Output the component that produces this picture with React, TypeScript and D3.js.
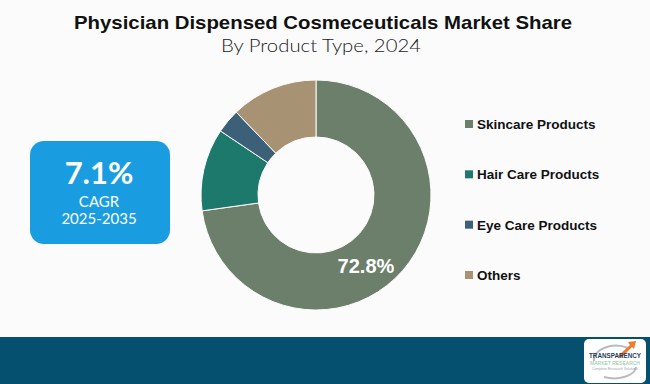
import * as d3 from 'd3';
import React from 'react';

const categories = ['Skincare Products', 'Hair Care Products', 'Eye Care Products', 'Others'];
const shares = [72.8, 11.6, 3.4, 12.2];
const colors = ['#6b7f6b', '#1d796c', '#3b6078', '#a79374'];
const shownLabel = '72.8%';

const W = 650;
const H = 384;

const App = () => {
  const cx = 316;
  const cy = 195;
  const outer = 115;
  const inner = 58;

  const pie = d3.pie<number>().sort(null).value(d => d);
  const arcs = pie(shares);
  const arc = d3.arc<d3.PieArcDatum<number>>().innerRadius(inner).outerRadius(outer);
  const labelArc = d3.arc<d3.PieArcDatum<number>>().innerRadius(86).outerRadius(86);

  // the only printed value sits on the big slice, lower right
  const big = arcs[0];
  const [lx, ly] = labelArc.centroid({ ...big, startAngle: 2.55, endAngle: 2.55 } as any);

  const legendY = d3.scalePoint<string>().domain(categories).range([124, 275]);

  return (
    <svg width={W} height={H} style={{ position: 'absolute', left: 0, top: 0, background: '#fbfbfb' }}>
      <rect width={W} height={H} fill="#fbfbfb" />

      <text x={323} y={29} textAnchor="middle" fontFamily="Liberation Sans, Arial, sans-serif" fontWeight="bold" fontSize={18.5} fill="#111" textLength={498} lengthAdjust="spacingAndGlyphs">
        Physician Dispensed Cosmeceuticals Market Share
      </text>
      <text x={321} y={52} textAnchor="middle" fontFamily="Lato, sans-serif" fontWeight={300} fontSize={17} fill="#222" textLength={200} lengthAdjust="spacingAndGlyphs">
        By Product Type, 2024
      </text>

      <rect x={30} y={141} width={140} height={103} rx={14} fill="#1a9de0" />
      <text x={99} y={184} textAnchor="middle" fontFamily="Lato, sans-serif" fontWeight="bold" fontSize={31} fill="#fff">7.1%</text>
      <text x={99} y={207} textAnchor="middle" fontFamily="Lato, sans-serif" fontSize={15} fill="#fff">CAGR</text>
      <text x={99} y={224} textAnchor="middle" fontFamily="Lato, sans-serif" fontSize={15} fill="#fff">2025-2035</text>

      <g transform={`translate(${cx},${cy})`}>
        {arcs.map((a, i) => (
          <path key={categories[i]} d={arc(a) || ''} fill={colors[i]} stroke="#fbfbfb" strokeWidth={1} />
        ))}
        <text x={lx + 2} y={ly + 7} textAnchor="middle" fontFamily="Liberation Sans, Arial, sans-serif" fontWeight="bold" fontSize={20} fill="#fff">
          {shownLabel}
        </text>
      </g>

      {categories.map((c, i) => (
        <g key={c} transform={`translate(465,${legendY(c)})`}>
          <rect x={0} y={-4} width={8} height={8} fill={colors[i]} />
          <text x={12} y={5} fontFamily="Liberation Sans, Arial, sans-serif" fontWeight="bold" fontSize={13.5} fill="#111">{c}</text>
        </g>
      ))}

      <rect x={0} y={337} width={W} height={H - 337} fill="#06506f" />
      <g transform="translate(584,339)">
        <rect width={62} height={44} rx={5} fill="#fff" />
        <path d="M10,22 A22,14 0 0 1 44,9" fill="none" stroke="#b8bcc0" strokeWidth={2} />
        <path d="M20,38 A22,12 0 0 0 52,28" fill="none" stroke="#b8bcc0" strokeWidth={2} />
        <path d="M34,17 L46,6 L44,3 L52,2 L50,10 L48,8 L37,19 Z" fill="#f07a2a" />
        <text x={31} y={19} textAnchor="middle" fontFamily="Liberation Sans, Arial, sans-serif" fontWeight="bold" fontSize={6.5} fill="#1f3e63" textLength={52} lengthAdjust="spacingAndGlyphs">TRANSPARENCY</text>
        <text x={31} y={26} textAnchor="middle" fontFamily="Liberation Sans, Arial, sans-serif" fontSize={5.5} fill="#8cc6a0" textLength={50} lengthAdjust="spacingAndGlyphs">MARKET RESEARCH</text>
        <text x={31} y={31} textAnchor="middle" fontFamily="Liberation Sans, Arial, sans-serif" fontSize={3} fill="#9aa" textLength={46} lengthAdjust="spacingAndGlyphs">Complete Research Solutions</text>
      </g>
    </svg>
  );
};

export default App;
